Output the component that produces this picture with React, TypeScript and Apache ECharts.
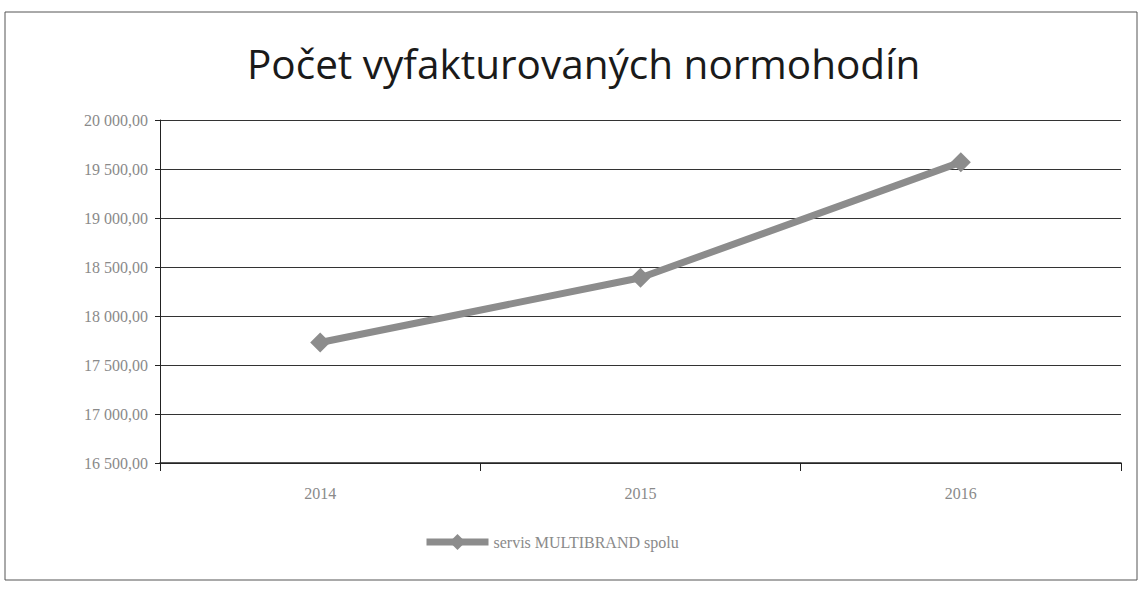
import React, { useEffect, useRef } from "react";
import * as echarts from "echarts";

const categories = ["2014", "2015", "2016"];
const values = [17730, 18390, 19570];
const seriesName = "servis MULTIBRAND spolu";
const titleText = "Počet vyfakturovaných normohodín";
const yMin = 16500;
const yMax = 20000;
const yStep = 500;

function fmt(v: number): string {
  const s = Math.round(v).toString();
  const t = s.replace(/\B(?=(\d{3})+(?!\d))/g, " ");
  return t + ",00";
}

export default function App() {
  const ref = useRef<HTMLDivElement>(null);
  useEffect(() => {
    if (!ref.current) return;
    const chart = echarts.init(ref.current, null, { renderer: "svg" });
    chart.setOption({
      animation: false,
      backgroundColor: "#ffffff",
      title: {
        text: titleText,
        left: 242,
        top: 38,
        textStyle: {
          fontFamily: "Open Sans",
          fontSize: 40.5,
          fontWeight: "normal",
          color: "#1a1a1a",
        },
      },
      grid: { left: 160, right: 20, top: 120, bottom: 126 },
      legend: {
        bottom: 34,
        left: 418,
        itemWidth: 62,
        itemHeight: 20,
        itemGap: 4,
        lineStyle: { width: 7 },
        textStyle: { fontFamily: "Liberation Serif", fontSize: 16, color: "#8a8a8a" },
        data: [seriesName],
      },
      xAxis: {
        type: "category",
        data: categories,
        boundaryGap: true,
        axisLine: { lineStyle: { color: "#222", width: 1.5 } },
        axisTick: { show: true, length: 8, lineStyle: { color: "#222" } },
        axisLabel: {
          margin: 22,
          fontFamily: "Liberation Serif",
          fontSize: 16,
          color: "#8a8a8a",
        },
      },
      yAxis: {
        type: "value",
        min: yMin,
        max: yMax,
        interval: yStep,
        axisLine: { show: true, lineStyle: { color: "#222", width: 1 } },
        axisTick: { show: true, length: 5, lineStyle: { color: "#222" } },
        axisLabel: {
          margin: 12,
          fontFamily: "Liberation Serif",
          fontSize: 16,
          color: "#8a8a8a",
          formatter: (v: number) => fmt(v),
        },
        splitLine: { show: true, lineStyle: { color: "#333", width: 1 } },
      },
      series: [
        {
          name: seriesName,
          type: "line",
          data: values,
          symbol: "diamond",
          symbolSize: 20,
          lineStyle: { color: "#8c8c8c", width: 7 },
          itemStyle: { color: "#8c8c8c" },
        },
      ],
      graphic: [
        {
          type: "rect",
          shape: { x: 5, y: 12, width: 1132, height: 568 },
          style: { fill: "none", stroke: "#555", lineWidth: 1 },
          silent: true,
        },
      ],
    });
    return () => chart.dispose();
  }, []);
  return (
    <div
      ref={ref}
      style={{ position: "fixed", left: 0, top: 0, width: 1141, height: 589 }}
    />
  );
}
